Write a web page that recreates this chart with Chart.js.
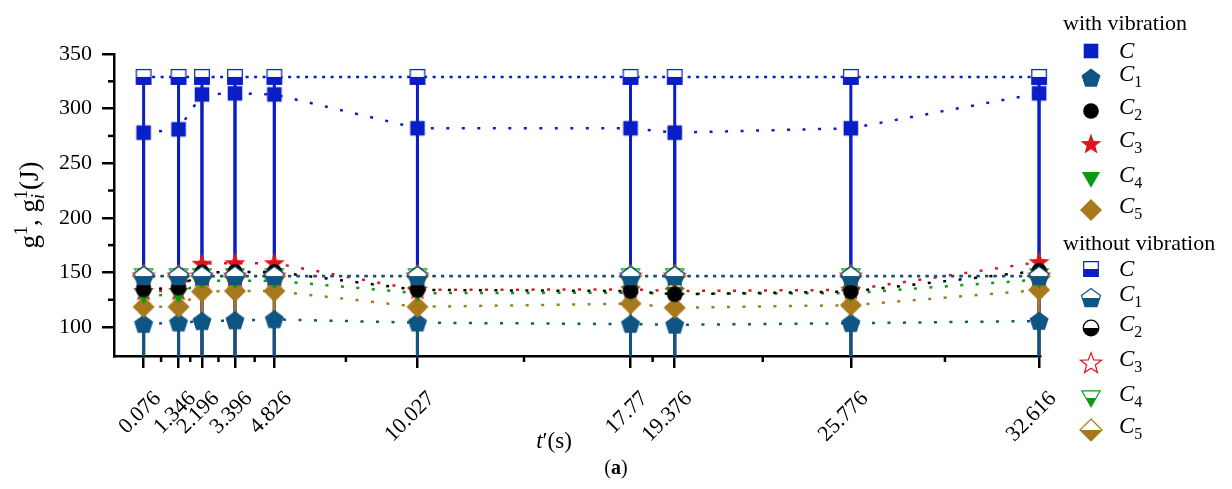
<!DOCTYPE html>
<html>
<head>
<meta charset="utf-8">
<script src="https://cdn.jsdelivr.net/npm/chart.js@4.4.0/dist/chart.umd.min.js"></script>
<style>
  html, body { margin: 0; padding: 0; background: #fff; }
  #wrap { position: relative; width: 1232px; height: 489px; }
  #chart { position: absolute; left: 0; top: 0; }
  .lg { position: absolute; font-family: "Liberation Serif", serif; color: #000; white-space: nowrap; }
  .lg-head { left: 1063px; font-size: 22px; line-height: 24px; }
  .lg-row { left: 1076px; height: 28px; display: flex; align-items: center; }
  .lg-row span { margin-left: 13px; font-size: 23px; line-height: 28px; }
  .lg-row sub { font-size: 16px; font-style: normal; vertical-align: -6px; }
</style>
</head>
<body>
<div id="wrap">
  <canvas id="chart" width="1232" height="489"></canvas>
  <div id="legend"></div>
</div>
<script>
// ── DATA ─────────────────────────────────────────────────────────────
const tPos    = [0.076, 1.346, 2.196, 3.396, 4.826, 10.027, 17.77, 19.376, 25.776, 32.616];
const tLabels = ['0.076','1.346','2.196','3.396','4.826','10.027','17.77','19.376','25.776','32.616'];
const yTicks  = [100, 125, 150, 175, 200, 225, 250, 275, 300, 325, 350];

// with vibration
const cWith  = [278, 281, 313, 314, 313, 282, 282, 278, 282, 314];
const c1With = [102.7, 104, 105.3, 106, 107, 104, 102.7, 102, 103.5, 105.5];
const c2With = [134.5, 136, 150, 150.5, 150.5, 134, 133, 130, 132.5, 151.5];
const c3With = [133, 133, 158, 158.5, 158.5, 134, 134.5, 133, 134, 159.5];
const c4With = [129, 129.5, 142.5, 142.5, 142.5, 131, 131.5, 130.5, 131, 143.5];
const c5With = [118.5, 118.5, 132.5, 133, 133, 118.5, 121.5, 117.7, 120, 134];

// without vibration
const cWithout  = [329, 329, 329, 329, 329, 329, 329, 329, 329, 329];
const c1Without = [146.7, 146.7, 146.7, 146.7, 146.7, 146.7, 146.7, 146.7, 146.7, 146.7];
const c2Without = [146.7, 146.7, 146.7, 146.7, 146.7, 146.7, 146.7, 146.7, 146.7, 146.7];
const c3Without = [146.7, 146.7, 146.7, 146.7, 146.7, 146.7, 146.7, 146.7, 146.7, 146.7];
const c4Without = [146.7, 146.7, 146.7, 146.7, 146.7, 146.7, 146.7, 146.7, 146.7, 146.7];
const c5Without = [146.7, 146.7, 146.7, 146.7, 146.7, 146.7, 146.7, 146.7, 146.7, 146.7];

// ── STYLE ────────────────────────────────────────────────────────────
const COL = { c:'#0a1ec6', c1:'#0e5583', c2:'#000000', c3:'#e0141e', c4:'#0a9a12', c5:'#a8791c' };
const FONT = '"Liberation Serif", "Times New Roman", serif';
const xMinor = tPos.slice(1).map((v, i) => (v + tPos[i]) / 2);

function polyPath(g, cx, cy, r, n, a0) {
  for (let k = 0; k < n; k++) {
    const a = a0 + k * 2 * Math.PI / n;
    const px = cx + r * Math.cos(a), py = cy + r * Math.sin(a);
    k ? g.lineTo(px, py) : g.moveTo(px, py);
  }
}
function starPath(g, cx, cy, ro, ri) {
  for (let k = 0; k < 10; k++) {
    const a = -Math.PI / 2 + k * Math.PI / 5, r = k % 2 ? ri : ro;
    const px = cx + r * Math.cos(a), py = cy + r * Math.sin(a);
    k ? g.lineTo(px, py) : g.moveTo(px, py);
  }
}
// mode: 'full' | 'half' (bottom filled) | 'none'
function marker(shape, color, mode) {
  const S = 30, c = S / 2;
  const cv = document.createElement('canvas');
  cv.width = cv.height = S;
  const g = cv.getContext('2d');
  g.beginPath();
  if (shape === 'square') g.rect(c - 7.3, c - 7.3, 14.6, 14.6);
  else if (shape === 'circle') g.arc(c, c, 7.8, 0, Math.PI * 2);
  else if (shape === 'pentagon') polyPath(g, c, c + 0.6, 10, 5, -Math.PI / 2);
  else if (shape === 'star') starPath(g, c, c + 0.6, 11, 4.6);
  else if (shape === 'tri') polyPath(g, c, c - 1.8, 10.5, 3, Math.PI / 2);
  else if (shape === 'diamond') polyPath(g, c, c, 11, 4, -Math.PI / 2);
  g.closePath();
  if (mode === 'full') {
    g.fillStyle = color; g.fill();
  } else {
    g.fillStyle = '#fff'; g.fill();
    if (mode === 'half') {
      g.save(); g.clip(); g.fillStyle = color; g.fillRect(0, c, S, S); g.restore();
    }
    g.lineWidth = 1.2; g.strokeStyle = color; g.stroke();
  }
  return cv;
}

const WITH_DASH = [3, 12.5], WITHOUT_DASH = [3, 5.5];
function series(vals, color, shape, mode, dash, width) {
  return {
    data: vals.map((v, i) => ({ x: tPos[i], y: v })),
    borderColor: color,
    borderWidth: width || 2.5,
    borderDash: dash,
    pointStyle: marker(shape, color, mode),
    pointRadius: 9,
    tension: 0,
    fill: false,
    clip: false,
  };
}

// first = drawn on top
const datasets = [
  series(c1Without, COL.c1, 'pentagon', 'half', WITHOUT_DASH, 2.8),
  series(c2With,    COL.c2, 'circle',   'full', WITH_DASH),
  series(c4With,    COL.c4, 'tri',      'full', WITH_DASH),
  series(c3With,    COL.c3, 'star',     'full', WITH_DASH),
  series(c5With,    COL.c5, 'diamond',  'full', WITH_DASH),
  series(c1With,    COL.c1, 'pentagon', 'full', WITH_DASH),
  series(cWithout,  COL.c,  'square',   'half', WITHOUT_DASH),
  series(cWith,     COL.c,  'square',   'full', WITH_DASH),
  series(c2Without, COL.c2, 'circle',   'half', WITHOUT_DASH, 1),
  series(c3Without, COL.c3, 'star',     'none', WITHOUT_DASH, 1),
  series(c4Without, COL.c4, 'tri',      'half', WITHOUT_DASH, 1),
  series(c5Without, COL.c5, 'diamond',  'half', WITHOUT_DASH, 1),
];

// vertical drop lines to the x axis (later ones cover earlier ones)
const drops = [[cWithout, COL.c], [cWith, COL.c], [c5With, COL.c5], [c1With, COL.c1]];
const dropLines = {
  id: 'dropLines',
  beforeDatasetsDraw(chart) {
    const { ctx, chartArea: a, scales: { x, y } } = chart;
    ctx.save();
    ctx.lineWidth = 3;
    drops.forEach(([vals, color]) => {
      ctx.strokeStyle = color;
      vals.forEach((v, i) => {
        const px = x.getPixelForValue(tPos[i]);
        ctx.beginPath();
        ctx.moveTo(px, y.getPixelForValue(v));
        ctx.lineTo(px, a.bottom);
        ctx.stroke();
      });
    });
    ctx.restore();
  }
};

function drawParts(ctx, parts, x0, y0) {
  let x = x0;
  parts.forEach(p => {
    ctx.font = p.f;
    ctx.fillText(p.t, x, y0 + (p.dy || 0));
    if (!p.noAdv) x += ctx.measureText(p.t).width;
  });
}
function partsWidth(ctx, parts) {
  let w = 0;
  parts.forEach(p => { ctx.font = p.f; if (!p.noAdv) w += ctx.measureText(p.t).width; });
  return w;
}

const extras = {
  id: 'extras',
  afterDraw(chart) {
    const { ctx, chartArea: a, scales: { x, y } } = chart;
    ctx.save();
    // minor ticks
    ctx.strokeStyle = '#000';
    ctx.lineWidth = 2.5;
    xMinor.forEach(v => {
      const p = x.getPixelForValue(v);
      ctx.beginPath(); ctx.moveTo(p, a.bottom); ctx.lineTo(p, a.bottom + 6); ctx.stroke();
    });
    yTicks.filter(v => v % 50).forEach(v => {
      const p = y.getPixelForValue(v);
      ctx.beginPath(); ctx.moveTo(a.left, p); ctx.lineTo(a.left - 6, p); ctx.stroke();
    });

    ctx.fillStyle = '#000';
    ctx.textBaseline = 'alphabetic';
    ctx.textAlign = 'left';
    const rm = '27px ' + FONT, sm = '18px ' + FONT, smi = 'italic 18px ' + FONT;

    // y title: g¹, gᵢ¹(J)
    const yParts = [
      { t: 'g', f: rm }, { t: '1', f: sm, dy: -11 }, { t: ', ', f: rm },
      { t: 'g', f: rm }, { t: 'i', f: smi, dy: 6, noAdv: true }, { t: '1', f: sm, dy: -11 },
      { t: '(J)', f: rm },
    ];
    ctx.save();
    ctx.translate(38, (a.top + a.bottom) / 2);
    ctx.rotate(-Math.PI / 2);
    drawParts(ctx, yParts, -partsWidth(ctx, yParts) / 2, 0);
    ctx.restore();

    // x title: t′(s)
    const xParts = [{ t: 't', f: 'italic 23px ' + FONT }, { t: '′', f: '23px ' + FONT }, { t: '(s)', f: '23px ' + FONT }];
    drawParts(ctx, xParts, 554 - partsWidth(ctx, xParts) / 2, 448);

    // caption (a)
    const capParts = [{ t: '(', f: '20px ' + FONT }, { t: 'a', f: 'bold 20px ' + FONT }, { t: ')', f: '20px ' + FONT }];
    drawParts(ctx, capParts, 616 - partsWidth(ctx, capParts) / 2, 474);
    ctx.restore();
  }
};

new Chart(document.getElementById('chart'), {
  type: 'line',
  data: { datasets },
  options: {
    responsive: false,
    animation: false,
    layout: { padding: { top: 54, right: 192, left: 0, bottom: 0 } },
    plugins: { legend: { display: false }, tooltip: { enabled: false } },
    scales: {
      x: {
        type: 'linear',
        min: -1,
        max: 32.65,
        afterBuildTicks: s => { s.ticks = tPos.concat(xMinor).sort((p, q) => p - q).map(v => ({ value: v })); },
        afterFit: s => { s.height = 133; },
        ticks: {
          autoSkip: false, minRotation: 45, maxRotation: 45, padding: 18, labelOffset: 14,
          color: '#000', font: { family: FONT, size: 22 },
          callback: v => { const i = tPos.indexOf(v); return i < 0 ? '' : tLabels[i]; },
        },
        grid: {
          drawOnChartArea: false, tickLength: 12, lineWidth: 2.5,
          color: c => (c.tick && tPos.includes(c.tick.value)) ? '#000' : 'rgba(0,0,0,0)',
        },
        border: { color: '#000', width: 2.5 },
      },
      y: {
        min: 73.5,
        max: 350,
        afterBuildTicks: s => { s.ticks = yTicks.map(v => ({ value: v })); },
        afterFit: s => { s.width = 114; },
        ticks: {
          padding: 10, color: '#000', font: { family: FONT, size: 22 },
          callback: v => (v % 50 === 0 ? String(v) : ''),
        },
        grid: {
          drawOnChartArea: false, tickLength: 12, lineWidth: 2.5,
          color: c => (c.tick && c.tick.value % 50 === 0) ? '#000' : 'rgba(0,0,0,0)',
        },
        border: { color: '#000', width: 2.5 },
      },
    },
  },
  plugins: [dropLines, extras],
});

// ── LEGEND (html) ────────────────────────────────────────────────────
const legendGroups = [
  { title: 'with vibration', y: 23, rows: [51, 78, 111, 144, 179, 210], mode: 'full' },
  { title: 'without vibration', y: 243, rows: [269, 298, 328, 363, 398, 430], mode: 'half' },
];
const legendItems = [
  { sub: '',  color: COL.c,  shape: 'square' },
  { sub: '1', color: COL.c1, shape: 'pentagon' },
  { sub: '2', color: COL.c2, shape: 'circle' },
  { sub: '3', color: COL.c3, shape: 'star' },
  { sub: '4', color: COL.c4, shape: 'tri' },
  { sub: '5', color: COL.c5, shape: 'diamond' },
];
const lg = document.getElementById('legend');
legendGroups.forEach(gr => {
  const h = document.createElement('div');
  h.className = 'lg lg-head';
  h.style.top = (gr.y - 12) + 'px';
  h.textContent = gr.title;
  lg.appendChild(h);
  legendItems.forEach((it, k) => {
    const row = document.createElement('div');
    row.className = 'lg lg-row';
    row.style.top = (gr.rows[k] - 14) + 'px';
    const mode = (gr.mode === 'half' && it.shape === 'star') ? 'none' : gr.mode;
    row.appendChild(marker(it.shape, it.color, mode));
    const lab = document.createElement('span');
    lab.innerHTML = '<i>C</i>' + (it.sub ? '<sub>' + it.sub + '</sub>' : '');
    row.appendChild(lab);
    lg.appendChild(row);
  });
});
</script>
</body>
</html>
